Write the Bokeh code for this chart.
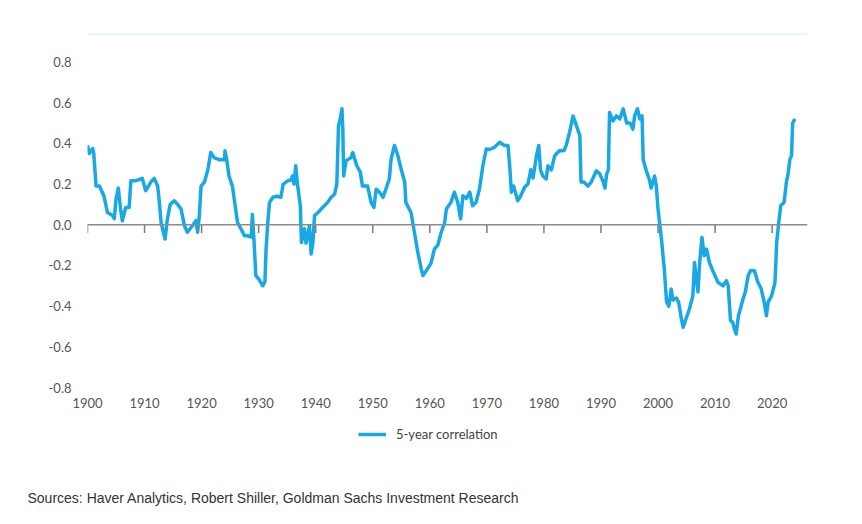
from bokeh.plotting import figure
from bokeh.layouts import column
from bokeh.models import (ColumnDataSource, Span, FixedTicker, NumeralTickFormatter,
                          Legend, LegendItem, Label, Range1d)
from bokeh.embed import file_html
from bokeh.resources import INLINE

years = [
    1900.0, 1900.3, 1900.9, 1901.1, 1901.5, 1902.1, 1902.9, 1903.5, 1904.4, 1904.7,
    1905.0, 1905.4, 1905.8, 1906.1, 1906.7, 1907.3, 1907.6, 1908.4, 1909.6, 1910.2,
    1911.1, 1911.7, 1912.3, 1912.6, 1912.9, 1913.6, 1914.0, 1914.5, 1915.2, 1915.8,
    1916.4, 1917.0, 1917.5, 1918.4, 1919.0, 1919.3, 1919.6, 1919.9, 1920.5, 1921.1,
    1921.6, 1922.2, 1923.1, 1924.0, 1924.1, 1924.4, 1924.8, 1925.4, 1925.8, 1926.3,
    1926.9, 1927.5, 1928.0, 1928.7, 1928.9, 1929.2, 1929.5, 1930.1, 1930.7, 1931.1,
    1931.3, 1931.6, 1931.9, 1932.5, 1933.3, 1933.9, 1934.3, 1935.1, 1935.7, 1935.9,
    1936.2, 1936.5, 1936.8, 1937.3, 1937.5, 1938.0, 1938.3, 1938.9, 1939.2, 1939.5,
    1939.8, 1940.4, 1941.2, 1942.1, 1942.7, 1943.3, 1943.7, 1944.0, 1944.3, 1944.6,
    1944.75, 1944.9, 1945.3, 1946.2, 1946.5, 1947.2, 1947.8, 1948.2, 1949.1, 1949.7,
    1950.2, 1950.6, 1951.2, 1951.8, 1952.3, 1952.9, 1953.2, 1953.8, 1954.4, 1955.0,
    1955.6, 1955.8, 1956.7, 1957.3, 1957.9, 1958.5, 1958.8, 1959.4, 1960.2, 1960.8,
    1961.4, 1962.0, 1962.6, 1962.9, 1963.7, 1964.3, 1964.9, 1965.4, 1965.8, 1966.4,
    1967.0, 1967.5, 1968.1, 1968.7, 1969.3, 1969.9, 1970.5, 1971.3, 1972.2, 1973.1,
    1973.7, 1974.0, 1974.3, 1974.7, 1975.4, 1975.9, 1976.6, 1977.2, 1977.7, 1978.1,
    1978.7, 1979.1, 1979.4, 1979.8, 1980.4, 1980.7, 1981.3, 1981.9, 1982.7, 1983.5,
    1983.9, 1984.5, 1985.1, 1985.7, 1986.3, 1986.5, 1987.0, 1987.7, 1988.3, 1989.2,
    1989.8, 1990.4, 1990.7, 1991.0, 1991.3, 1991.5, 1992.1, 1992.7, 1993.3, 1993.9,
    1994.5, 1995.1, 1995.6, 1995.9, 1996.4, 1996.8, 1997.2, 1997.4, 1997.9, 1998.5,
    1998.8, 1999.4, 1999.7, 2000.0, 2000.6, 2001.1, 2001.5, 2001.9, 2002.3, 2002.6,
    2003.2, 2003.6, 2004.1, 2004.4, 2004.9, 2005.5, 2006.1, 2006.4, 2006.7, 2007.0,
    2007.3, 2007.7, 2008.1, 2008.5, 2009.0, 2009.6, 2010.5, 2011.4, 2012.0, 2012.3,
    2012.7, 2013.1, 2013.4, 2013.7, 2014.1, 2014.9, 2015.3, 2015.8, 2016.2, 2016.9,
    2017.5, 2018.1, 2018.6, 2019.0, 2019.3, 2019.9, 2020.5, 2020.8, 2021.1, 2021.5,
    2022.1, 2022.5, 2022.8, 2023.1, 2023.4, 2023.6, 2024.0,
]
correlation = [
    0.39, 0.35, 0.375, 0.35, 0.19, 0.19, 0.14, 0.06, 0.045, 0.03,
    0.126, 0.18, 0.077, 0.02, 0.085, 0.085, 0.216, 0.216, 0.228, 0.167,
    0.21, 0.228, 0.19, 0.11, 0.01, -0.07, 0.028, 0.10, 0.118, 0.10,
    0.077, -0.005, -0.037, -0.005, 0.02, -0.037, 0.045, 0.19, 0.21, 0.27,
    0.355, 0.33, 0.32, 0.32, 0.364, 0.32, 0.24, 0.19, 0.11, 0.01,
    -0.02, -0.054, -0.054, -0.06, 0.05, -0.087, -0.25, -0.27, -0.30, -0.28,
    -0.12, 0.01, 0.11, 0.135, 0.14, 0.135, 0.20, 0.216, 0.22, 0.24,
    0.20, 0.29, 0.20, 0.093, -0.087, -0.02, -0.09, -0.005, -0.144, -0.09,
    0.045, 0.06, 0.085, 0.11, 0.135, 0.15, 0.20, 0.487, 0.52, 0.57,
    0.47, 0.24, 0.314, 0.33, 0.355, 0.29, 0.26, 0.19, 0.19, 0.11,
    0.085, 0.175, 0.16, 0.135, 0.175, 0.225, 0.32, 0.39, 0.34, 0.27,
    0.21, 0.11, 0.06, -0.037, -0.136, -0.218, -0.25, -0.225, -0.19, -0.12,
    -0.10, -0.037, 0.01, 0.077, 0.11, 0.16, 0.11, 0.028, 0.143, 0.13,
    0.16, 0.093, 0.11, 0.175, 0.29, 0.372, 0.37, 0.38, 0.405, 0.39,
    0.39, 0.29, 0.16, 0.19, 0.118, 0.14, 0.184, 0.20, 0.27, 0.23,
    0.34, 0.39, 0.27, 0.24, 0.225, 0.29, 0.27, 0.34, 0.364, 0.364,
    0.39, 0.454, 0.535, 0.487, 0.437, 0.21, 0.21, 0.19, 0.21, 0.265,
    0.25, 0.21, 0.18, 0.25, 0.27, 0.552, 0.51, 0.535, 0.52, 0.57,
    0.50, 0.50, 0.47, 0.535, 0.57, 0.52, 0.535, 0.32, 0.27, 0.22,
    0.18, 0.24, 0.19, 0.077, -0.07, -0.218, -0.38, -0.40, -0.316, -0.37,
    -0.36, -0.38, -0.463, -0.504, -0.463, -0.414, -0.35, -0.185, -0.267, -0.33,
    -0.185, -0.062, -0.152, -0.12, -0.185, -0.226, -0.283, -0.30, -0.275, -0.30,
    -0.47, -0.48, -0.513, -0.537, -0.447, -0.365, -0.33, -0.25, -0.226, -0.226,
    -0.283, -0.316, -0.38, -0.447, -0.38, -0.35, -0.283, -0.087, -0.005, 0.093,
    0.11, 0.21, 0.25, 0.32, 0.34, 0.50, 0.52,
]
x_ticks = [1900, 1910, 1920, 1930, 1940, 1950, 1960, 1970, 1980, 1990, 2000, 2010, 2020]
y_ticks = [-0.8, -0.6, -0.4, -0.2, 0.0, 0.2, 0.4, 0.6, 0.8]
series_label = "5-year correlation"
source_note = "Sources: Haver Analytics, Robert Shiller, Goldman Sachs Investment Research"

LINE_COLOR = "#18a8e6"
AXIS_TEXT = "#555555"
LINE_WIDTH = 3.5

src = ColumnDataSource(dict(year=years, corr=correlation))

# ---- main chart ----
p = figure(width=846, height=412, output_backend="svg", toolbar_location=None,
           x_range=Range1d(1900, 2026.2), y_range=Range1d(-0.8, 0.95),
           min_border_left=87, min_border_right=39, min_border_top=31, min_border_bottom=25)
p.frame_align = False
p.outline_line_color = None
p.background_fill_color = "white"
p.border_fill_color = "white"
p.xgrid.visible = False
p.ygrid.visible = False

p.yaxis.ticker = FixedTicker(ticks=y_ticks)
p.yaxis.formatter = NumeralTickFormatter(format="0.0")
p.xaxis.ticker = FixedTicker(ticks=x_ticks)
for ax in (p.xaxis, p.yaxis):
    ax.axis_line_color = None
    ax.major_tick_line_color = None
    ax.minor_tick_line_color = None
    ax.major_label_text_font = "Lato"
    ax.major_label_text_font_size = "13px"
    ax.major_label_text_color = AXIS_TEXT
p.yaxis.major_label_standoff = 10
p.xaxis.major_label_standoff = 4

# faint top rule
p.add_layout(Span(location=0.937, dimension="width", line_color="#e6f4fa", line_width=2))
# zero line with hanging ticks
p.add_layout(Span(location=0, dimension="width", line_color="#8c8c8c", line_width=1.5))
tick_src = ColumnDataSource(dict(x=x_ticks, y0=[0.0] * len(x_ticks), y1=[-0.04] * len(x_ticks)))
p.segment(x0="x", y0="y0", x1="x", y1="y1", source=tick_src, line_color="#7a7a7a", line_width=1.5)

p.line("year", "corr", source=src, line_color=LINE_COLOR, line_width=LINE_WIDTH, line_join="round")

# ---- footer: legend + source note ----
f = figure(width=846, height=96, output_backend="svg", toolbar_location=None,
           x_range=Range1d(0, 1), y_range=Range1d(0, 1),
           min_border_left=0, min_border_right=0, min_border_top=0, min_border_bottom=0)
f.frame_align = False
f.axis.visible = False
f.xgrid.visible = False
f.ygrid.visible = False
f.outline_line_color = None
f.background_fill_color = "white"
f.border_fill_color = "white"
# same series, outside this footer's ranges: serves only as the legend key
key = f.line("year", "corr", source=src, line_color=LINE_COLOR, line_width=LINE_WIDTH)

legend = Legend(items=[LegendItem(label=series_label, renderers=[key])],
                location=(358, 64), orientation="horizontal",
                label_text_font="Lato", label_text_font_size="13px", label_text_color="#444444",
                glyph_width=28, label_standoff=10, border_line_color=None,
                background_fill_alpha=0, padding=10, margin=0)
f.add_layout(legend, "center")

f.add_layout(Label(x=27, y=11, x_units="screen", y_units="screen", text=source_note,
                   text_baseline="middle", text_align="left",
                   text_font="Liberation Sans", text_font_size="14px",
                   text_color="#333333"))

page = column(p, f, spacing=0)
open("out.html", "w").write(file_html(page, INLINE))
